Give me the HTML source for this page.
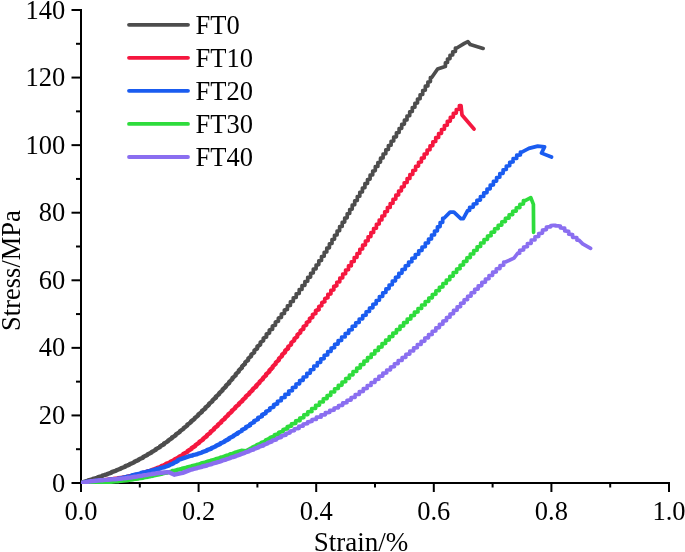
<!DOCTYPE html>
<html><head><meta charset="utf-8"><title>Stress-Strain</title>
<style>
html,body{margin:0;padding:0;background:#fff;}
body{width:685px;height:552px;overflow:hidden;}
svg{display:block;will-change:transform;}
text{font-family:"Liberation Serif",serif;font-size:26.5px;fill:#000;}
.c{fill:none;stroke-linejoin:round;stroke-linecap:round;}
</style></head><body>
<svg width="685" height="552" viewBox="0 0 685 552">
<rect width="685" height="552" fill="#fff"/>

<g stroke="#000" stroke-width="2" fill="none" stroke-linecap="butt">
<path d="M81 9 V492"/>
<path d="M71.5 483 H670"/>
<path d="M76 449.21 H81"/>
<path d="M71.5 415.43 H81"/>
<path d="M76 381.64 H81"/>
<path d="M71.5 347.86 H81"/>
<path d="M76 314.07 H81"/>
<path d="M71.5 280.29 H81"/>
<path d="M76 246.50 H81"/>
<path d="M71.5 212.71 H81"/>
<path d="M76 178.93 H81"/>
<path d="M71.5 145.14 H81"/>
<path d="M76 111.36 H81"/>
<path d="M71.5 77.57 H81"/>
<path d="M76 43.79 H81"/>
<path d="M71.5 10.00 H81"/>
<path d="M139.80 483 V487.5"/>
<path d="M198.60 483 V492"/>
<path d="M257.40 483 V487.5"/>
<path d="M316.20 483 V492"/>
<path d="M375.00 483 V487.5"/>
<path d="M433.80 483 V492"/>
<path d="M492.60 483 V487.5"/>
<path d="M551.40 483 V492"/>
<path d="M610.20 483 V487.5"/>
<path d="M669.00 483 V492"/>
</g>
<text x="65.3" y="491.5" text-anchor="end">0</text>
<text x="65.3" y="423.9" text-anchor="end">20</text>
<text x="65.3" y="356.4" text-anchor="end">40</text>
<text x="65.3" y="288.8" text-anchor="end">60</text>
<text x="65.3" y="221.2" text-anchor="end">80</text>
<text x="65.3" y="153.6" text-anchor="end">100</text>
<text x="65.3" y="86.1" text-anchor="end">120</text>
<text x="65.3" y="18.5" text-anchor="end">140</text>
<text x="81.0" y="520" text-anchor="middle">0.0</text>
<text x="198.6" y="520" text-anchor="middle">0.2</text>
<text x="316.2" y="520" text-anchor="middle">0.4</text>
<text x="433.8" y="520" text-anchor="middle">0.6</text>
<text x="551.4" y="520" text-anchor="middle">0.8</text>
<text x="669.0" y="520" text-anchor="middle">1.0</text>
<text x="361" y="551.2" text-anchor="middle" style="font-size:27px">Strain/%</text>
<text transform="translate(20.3 270.5) rotate(-90)" text-anchor="middle">Stress/MPa</text>
<clipPath id="pc"><rect x="81" y="0" width="604" height="484"/></clipPath>
<g clip-path="url(#pc)">
<g class="c" stroke="#4d4d4d">
<path d="M81.0 483.0 L83.3 482.3 L83.3 482.0 L85.7 481.3 L88.1 480.7 L88.1 480.4 L90.4 479.8 L92.8 479.2 L92.8 478.9 L95.2 478.3 L97.6 477.7 L97.6 477.4 L99.9 476.7 L102.3 476.1 L102.3 475.7 L104.6 475.0 L107.0 474.4 L107.0 474.0 L109.3 473.3 L111.6 472.6 L111.6 472.2 L113.9 471.4 L116.2 470.7 L116.2 470.3 L118.5 469.5 L120.8 468.7 L120.8 468.3 L123.1 467.5 L125.3 466.7 L125.3 466.2 L127.6 465.4 L129.8 464.5 L129.8 464.1 L132.1 463.2 L134.3 462.3 L134.3 461.8 L136.5 460.9 L138.7 460.0 L138.7 459.5 L140.9 458.5 L143.1 457.6 L143.1 457.0 L145.2 456.1 L147.4 455.1 L147.4 454.5 L149.5 453.5 L151.6 452.5 L151.6 451.9 L153.7 450.9 L155.8 449.8 L155.8 449.2 L157.9 448.1 L160.0 447.0 L160.0 446.4 L162.0 445.3 L164.0 444.2 L164.0 443.5 L166.1 442.4 L168.1 441.2 L168.1 440.6 L170.0 439.4 L172.0 438.2 L172.0 437.5 L174.0 436.3 L175.9 435.1 L175.9 434.4 L177.9 433.2 L179.8 432.0 L179.8 431.3 L181.7 430.0 L183.6 428.7 L183.6 428.0 L185.5 426.8 L187.3 425.5 L187.3 424.7 L189.2 423.5 L191.1 422.1 L191.1 421.4 L192.9 420.1 L194.7 418.8 L194.7 418.0 L196.5 416.7 L198.3 415.3 L198.3 414.6 L200.1 413.2 L201.9 411.9 L201.9 411.1 L203.7 409.7 L205.4 408.4 L205.4 407.6 L207.2 406.2 L208.9 404.8 L208.9 404.0 L210.7 402.6 L212.4 401.2 L212.4 400.4 L214.1 399.0 L215.8 397.6" stroke-width="4.40"/>
<path d="M215.8 397.6 L215.8 396.8 L217.5 395.4 L219.2 394.0 L219.2 393.1 L220.9 391.7 L222.6 390.3 L222.6 389.4 L224.3 388.0 L225.9 386.6 L225.9 385.7 L227.6 384.3 L229.2 382.9" stroke-width="4.39"/>
<path d="M229.2 382.9 L229.2 381.9 L230.8 380.5 L232.4 379.2 L232.4 378.0 L234.1 376.7 L235.7 375.4 L235.7 374.2 L237.2 372.9 L238.8 371.6 L238.8 370.3 L240.4 369.0 L242.0 367.8 L242.0 366.3 L243.5 365.1" stroke-width="4.29"/>
<path d="M243.5 365.1 L245.1 364.0 L245.1 362.4 L246.6 361.2 L248.2 360.2 L248.2 358.4 L249.7 357.3 L251.2 356.3 L251.2 354.4 L252.8 353.4 L254.3 352.5 L254.3 350.4 L255.8 349.4 L257.3 348.6 L257.3 346.3 L258.9 345.5" stroke-width="4.13"/>
<path d="M258.9 345.5 L260.4 344.7 L260.4 342.3 L261.9 341.5 L263.4 340.8 L263.4 338.3 L264.9 337.5 L266.4 336.9 L266.4 334.2 L267.9 333.6 L269.4 333.0 L269.4 330.2 L270.9 329.6 L272.4 329.1" stroke-width="3.95"/>
<path d="M272.4 329.1 L272.4 326.1 L273.9 325.6 L275.4 325.2 L275.4 322.1 L276.9 321.6 L278.4 321.2 L278.4 318.0 L279.9 317.6 L281.4 317.3 L281.4 314.0 L282.9 313.7 L284.4 313.4 L284.4 310.0 L285.9 309.7" stroke-width="3.81"/>
<path d="M285.9 309.7 L287.4 309.4 L287.4 305.9 L288.9 305.7 L290.4 305.5 L290.4 301.9 L291.8 301.6 L293.3 301.5 L293.3 297.8 L294.8 297.6 L296.2 297.5 L296.2 293.8 L297.7 293.6 L299.2 293.4 L299.2 289.7 L300.6 289.5" stroke-width="3.71"/>
<path d="M300.6 289.5 L302.0 289.4 L302.0 285.6 L303.5 285.5 L304.9 285.3 L304.9 281.5 L306.3 281.4 L307.7 281.2 L307.7 277.4 L309.2 277.3 L310.6 277.1 L310.6 273.3 L312.0 273.1 L313.3 273.0 L313.3 269.1 L314.7 269.0 L316.1 268.8 L316.1 265.0 L317.5 264.8 L318.8 264.6 L318.8 260.8 L320.2 260.6 L321.5 260.4 L321.5 256.6 L322.8 256.4 L324.2 256.2 L324.2 252.3 L325.5 252.2 L326.8 252.0 L326.8 248.1 L328.1 247.9 L329.4 247.8 L329.4 243.8 L330.7 243.7 L332.0 243.5 L332.0 239.6 L333.3 239.4 L334.5 239.2 L334.5 235.3 L335.8 235.1 L337.1 235.0 L337.1 231.0 L338.4 230.8 L339.6 230.7 L339.6 226.7 L340.9 226.5 L342.2 226.4 L342.2 222.4 L343.4 222.2 L344.7 222.1 L344.7 218.1 L345.9 217.9 L347.2 217.8 L347.2 213.8 L348.5 213.6 L349.7 213.5 L349.7 209.5 L351.0 209.3 L352.2 209.1 L352.2 205.2 L353.5 205.0 L354.7 204.8 L354.7 200.9 L356.0 200.7 L357.3 200.5 L357.3 196.6 L358.5 196.4 L359.8 196.2 L359.8 192.3 L361.1 192.1 L362.4 192.0 L362.4 188.0 L363.6 187.8 L364.9 187.7 L364.9 183.7 L366.2 183.6 L367.5 183.4 L367.5 179.5 L368.8 179.3 L370.1 179.1 L370.1 175.2 L371.4 175.0 L372.7 174.9 L372.7 171.0 L374.0 170.8 L375.3 170.6 L375.3 166.7 L376.6 166.5 L377.9 166.4 L377.9 162.5 L379.2 162.3 L380.5 162.1 L380.5 158.2 L381.8 158.1 L383.1 157.9 L383.1 154.0 L384.5 153.8 L385.8 153.7 L385.8 149.8 L387.1 149.6 L388.4 149.4 L388.4 145.5 L389.8 145.4 L391.1 145.2 L391.1 141.3 L392.4 141.2 L393.7 141.0 L393.7 137.1 L395.1 136.9 L396.4 136.8 L396.4 132.9 L397.7 132.7 L399.1 132.5 L399.1 128.7 L400.4 128.5 L401.7 128.3 L401.7 124.4 L403.0 124.3 L404.4 124.1 L404.4 120.2 L405.7 120.1 L407.0 119.9 L407.0 116.0 L408.3 115.8 L409.7 115.7 L409.7 111.8 L411.0 111.6 L412.3 111.4 L412.3 107.5 L413.6 107.4 L414.9 107.2 L414.9 103.3 L416.2 103.1 L417.5 102.9 L417.5 99.0 L418.8 98.9 L420.1 98.7 L420.1 94.8 L421.4 94.6 L422.7 94.4 L422.7 90.5 L424.0 90.3 L425.3 90.2 L425.3 86.2 L426.6 86.1 L427.9 85.9 L427.9 82.0 L429.1 81.8 L430.4 81.6 L430.4 77.7 L431.7 77.5 L437.6 69.0 L444.4 66.7 L444.4 66.7 L445.4 66.5 L445.4 62.9 L446.4 62.7 L447.5 62.5 L447.5 59.0 L448.6 58.8 L450.0 58.6 L450.0 55.4 L451.3 55.2 L452.7 55.0 L452.7 51.8 L454.1 51.6 L455.4 51.4 L455.4 48.2 L456.8 48.0 L464.4 43.4 L467.9 41.6 L470.2 44.5 L483.1 48.4" stroke-width="3.70"/>
</g>
<g class="c" stroke="#f5173f">
<path d="M81.0 483.0 L83.5 482.7 L83.5 482.6 L85.9 482.3 L88.4 482.0 L88.4 481.9 L90.9 481.7 L93.4 481.5 L93.4 481.4 L95.9 481.2 L98.4 480.9 L98.4 480.8 L100.9 480.6 L103.3 480.3 L103.3 480.2 L105.8 480.0 L108.3 479.7 L108.3 479.6 L110.8 479.3 L113.3 479.1 L113.3 478.9 L115.7 478.6 L118.2 478.4 L118.2 478.2 L120.7 477.9 L123.1 477.6 L123.1 477.4 L125.6 477.1 L128.1 476.7 L128.1 476.5 L130.5 476.1 L133.0 475.7 L133.0 475.5 L135.4 475.0 L137.8 474.6 L137.8 474.3 L140.3 473.8 L142.7 473.3 L142.7 473.0 L145.1 472.4 L147.4 471.8 L147.4 471.5 L149.8 470.9 L152.2 470.2 L152.2 469.8 L154.5 469.2 L156.8 468.4 L156.8 468.0 L159.2 467.3 L161.4 466.5 L161.4 466.1 L163.7 465.3 L166.0 464.4 L166.0 463.9 L168.2 463.1 L170.4 462.2 L170.4 461.7 L172.6 460.8 L174.8 459.8 L174.8 459.2 L177.0 458.3 L179.1 457.3 L179.1 456.7 L181.3 455.7 L183.3 454.6 L183.3 454.0 L185.4 452.9 L187.5 451.8 L187.5 451.2 L189.5 450.0 L191.5 448.9 L191.5 448.2 L193.5 447.0 L195.5 445.8 L195.5 445.1 L197.4 443.9 L199.3 442.7 L199.3 441.9 L201.3 440.7 L203.1 439.4 L203.1 438.7 L205.0 437.4 L206.9 436.1 L206.9 435.3 L208.7 434.0 L210.5 432.7 L210.5 431.9 L212.3 430.6 L214.1 429.2 L214.1 428.5 L215.9 427.1 L217.7 425.7 L217.7 425.0 L219.5 423.6 L221.3 422.2 L221.3 421.4 L223.0 420.1 L224.8 418.7 L224.8 417.9 L226.6 416.5 L228.3 415.1 L228.3 414.3 L230.1 413.0 L231.8 411.6 L231.8 410.8 L233.6 409.4 L235.3 408.0 L235.3 407.2 L237.1 405.8 L238.9 404.4 L238.9 403.7 L240.6 402.3 L242.4 400.9 L242.4 400.1 L244.1 398.7 L245.8 397.3 L245.8 396.5 L247.6 395.1 L249.3 393.7 L249.3 392.9 L251.0 391.5 L252.7 390.0 L252.7 389.2 L254.5 387.8 L256.2 386.4" stroke-width="4.40"/>
<path d="M256.2 386.4 L256.2 385.6 L257.8 384.1 L259.5 382.7 L259.5 381.9 L261.2 380.4 L262.9 379.0 L262.9 378.1 L264.5 376.7 L266.1 375.3 L266.1 374.3 L267.8 372.9 L269.4 371.5 L269.4 370.5 L271.0 369.1" stroke-width="4.38"/>
<path d="M271.0 369.1 L272.6 367.7 L272.6 366.6 L274.2 365.2 L275.7 363.9 L275.7 362.7 L277.3 361.3 L278.9 360.0 L278.9 358.7 L280.4 357.4 L282.0 356.1 L282.0 354.7 L283.5 353.5 L285.1 352.3 L285.1 350.7 L286.6 349.5 L288.1 348.4" stroke-width="4.29"/>
<path d="M288.1 348.4 L288.1 346.7 L289.7 345.6 L291.2 344.5 L291.2 342.7 L292.7 341.6 L294.3 340.6 L294.3 338.7 L295.8 337.7 L297.3 336.7 L297.3 334.7 L298.8 333.7 L300.4 332.8 L300.4 330.7 L301.9 329.8 L303.4 328.9" stroke-width="4.13"/>
<path d="M303.4 328.9 L303.4 326.6 L305.0 325.8 L306.5 325.0 L306.5 322.6 L308.0 321.9 L309.6 321.2 L309.6 318.6 L311.1 317.9 L312.6 317.3 L312.6 314.6 L314.2 314.0 L315.7 313.4 L315.7 310.6 L317.2 310.0 L318.8 309.5" stroke-width="3.96"/>
<path d="M318.8 309.5 L318.8 306.5 L320.3 306.0 L321.8 305.6 L321.8 302.5 L323.3 302.1 L324.8 301.7 L324.8 298.5 L326.4 298.1 L327.9 297.7 L327.9 294.4 L329.4 294.1 L330.9 293.8 L330.9 290.4 L332.4 290.1 L333.8 289.8 L333.8 286.3 L335.3 286.1" stroke-width="3.80"/>
<path d="M335.3 286.1 L336.8 285.8 L336.8 282.3 L338.3 282.0 L339.8 281.8 L339.8 278.2 L341.2 278.0 L342.7 277.8 L342.7 274.1 L344.1 273.9 L345.6 273.7 L345.6 270.0 L347.0 269.8 L348.5 269.7 L348.5 265.9 L349.9 265.7 L351.3 265.6" stroke-width="3.71"/>
<path d="M351.3 265.6 L351.3 261.8 L352.8 261.6 L354.2 261.5 L354.2 257.7 L355.6 257.5 L357.0 257.3 L357.0 253.5 L358.4 253.4 L359.8 253.2 L359.8 249.4 L361.2 249.2 L362.6 249.0 L362.6 245.2 L364.0 245.1 L365.4 244.9 L365.4 241.1 L366.7 240.9 L368.1 240.7 L368.1 236.9 L369.5 236.7 L370.9 236.6 L370.9 232.7 L372.3 232.6 L373.6 232.4 L373.6 228.6 L375.0 228.4 L376.4 228.2 L376.4 224.4 L377.8 224.2 L379.2 224.0 L379.2 220.2 L380.5 220.0 L381.9 219.9 L381.9 216.0 L383.3 215.9 L384.7 215.7 L384.7 211.9 L386.1 211.7 L387.4 211.5 L387.4 207.7 L388.8 207.5 L390.2 207.4 L390.2 203.5 L391.6 203.4 L393.0 203.2 L393.0 199.4 L394.4 199.2 L395.8 199.1 L395.8 195.2 L397.2 195.1 L398.6 194.9 L398.6 191.1 L400.0 190.9 L401.4 190.8 L401.4 187.0 L402.8 186.8 L404.2 186.6 L404.2 182.8 L405.7 182.7 L407.1 182.5 L407.1 178.7 L408.5 178.6 L409.9 178.4 L409.9 174.6 L411.3 174.4 L412.8 174.3 L412.8 170.5 L414.2 170.3 L415.6 170.2 L415.6 166.4 L417.1 166.2 L418.5 166.1 L418.5 162.3 L419.9 162.2 L421.4 162.0 L421.4 158.2 L422.8 158.1 L424.2 157.9 L424.2 154.1 L425.7 154.0 L427.1 153.8 L427.1 150.0 L428.5 149.9 L430.0 149.7 L430.0 145.9 L431.4 145.8 L432.8 145.6 L432.8 141.8 L434.3 141.7 L435.7 141.5 L435.7 137.7 L437.1 137.6 L438.6 137.4 L438.6 133.6 L440.0 133.5 L441.5 133.3 L441.5 129.6 L442.9 129.4 L444.4 129.2 L444.4 125.5 L445.8 125.3 L447.3 125.2 L447.3 121.4 L448.8 121.3 L450.3 121.1 L450.3 117.4 L451.7 117.3 L453.3 117.1 L453.3 113.4 L454.8 113.3 L456.3 113.1 L456.3 109.5 L457.9 109.3 L459.4 109.2 L459.4 105.6 L461.0 105.5 L462.0 115.0 L474.0 129.0" stroke-width="3.70"/>
</g>
<g class="c" stroke="#1a5cf0">
<path d="M81.0 483.0 L83.4 482.6 L83.4 482.4 L85.8 482.0 L88.2 481.7 L88.2 481.6 L90.6 481.3 L93.1 481.2 L93.1 481.1 L95.5 481.0 L97.9 480.8 L97.9 480.7 L100.4 480.6 L102.8 480.5 L102.8 480.4 L105.2 480.3 L107.7 480.1 L107.7 480.0 L110.1 479.8 L112.5 479.6 L112.5 479.5 L115.0 479.2 L117.4 478.9 L117.4 478.7 L119.8 478.4 L122.2 478.0 L122.2 477.8 L124.6 477.4 L126.9 477.0 L126.9 476.7 L129.3 476.3 L131.7 475.8 L131.7 475.5 L134.1 475.0 L136.4 474.5 L136.4 474.3 L138.8 473.8 L141.1 473.3 L141.1 473.0 L143.5 472.5 L145.9 472.1 L145.9 471.8 L148.2 471.3 L150.6 470.9 L150.6 470.6 L153.0 470.2 L155.4 469.7 L155.4 469.5 L157.7 469.0 L160.1 468.5 L160.1 468.2 L162.4 467.7 L164.8 467.1 L164.8 466.8 L167.1 466.1 L169.3 465.4 L169.3 465.0 L171.6 464.2 L173.7 463.3 L173.7 462.8 L175.9 462.0 L177.9 460.9 L177.9 460.3 L180.0 459.3 L190.2 455.9 L192.6 455.5 L192.6 455.2 L195.1 454.7 L197.5 454.1 L197.5 453.8 L199.9 453.2 L202.2 452.5 L202.2 452.1 L204.6 451.4 L206.9 450.7 L206.9 450.2 L209.2 449.4 L211.5 448.6 L211.5 448.1 L213.7 447.2 L216.0 446.3 L216.0 445.8 L218.2 444.9 L220.4 444.0 L220.4 443.4 L222.6 442.5 L224.8 441.5 L224.8 440.9 L226.9 439.9" stroke-width="4.40"/>
<path d="M226.9 439.9 L229.1 438.9 L229.1 438.3 L231.2 437.3 L233.4 436.3 L233.4 435.7 L235.5 434.6 L237.6 433.6" stroke-width="4.38"/>
<path d="M237.6 433.6 L237.6 432.9 L239.7 431.9 L241.8 430.9 L241.8 430.0 L243.9 429.1 L245.9 428.1 L245.9 427.1 L248.0 426.2 L250.0 425.3" stroke-width="4.30"/>
<path d="M250.0 425.3 L250.0 424.1 L252.0 423.2 L254.0 422.4 L254.0 421.0 L256.1 420.2 L258.0 419.4 L258.0 417.8 L260.0 417.1 L262.0 416.4 L262.0 414.6 L264.0 413.9" stroke-width="4.13"/>
<path d="M264.0 413.9 L265.9 413.3 L265.9 411.4 L267.9 410.8 L269.8 410.2 L269.8 408.1 L271.7 407.6 L273.7 407.1 L273.7 404.7 L275.6 404.3" stroke-width="3.95"/>
<path d="M275.6 404.3 L277.5 403.9 L277.5 401.4 L279.4 401.0 L281.2 400.7 L281.2 398.0 L283.1 397.7 L285.0 397.4 L285.0 394.5 L286.9 394.3 L288.7 394.1" stroke-width="3.80"/>
<path d="M288.7 394.1 L288.7 391.1 L290.6 390.9 L292.4 390.7 L292.4 387.6 L294.2 387.4 L296.0 387.3 L296.0 384.1 L297.8 383.9 L299.6 383.8 L299.6 380.5 L301.4 380.4" stroke-width="3.71"/>
<path d="M301.4 380.4 L303.2 380.3 L303.2 377.0 L305.0 376.9 L306.8 376.7 L306.8 373.4 L308.5 373.3 L310.3 373.1 L310.3 369.8 L312.0 369.7 L313.8 369.5 L313.8 366.2 L315.5 366.0 L317.3 365.9 L317.3 362.5 L319.0 362.4 L320.7 362.3 L320.7 358.9 L322.5 358.8 L324.2 358.6 L324.2 355.3 L325.9 355.1 L327.7 355.0 L327.7 351.6 L329.4 351.5 L331.1 351.3 L331.1 348.0 L332.9 347.8 L334.6 347.7 L334.6 344.4 L336.4 344.2 L338.1 344.1 L338.1 340.7 L339.9 340.6 L341.6 340.5 L341.6 337.2 L343.4 337.0 L345.2 336.9 L345.2 333.6 L346.9 333.4 L348.7 333.3 L348.7 330.0 L350.5 329.8 L352.2 329.7 L352.2 326.4 L354.0 326.2 L355.7 326.1 L355.7 322.8 L357.5 322.6 L359.2 322.5 L359.2 319.1 L361.0 319.0 L362.7 318.8 L362.7 315.5 L364.4 315.3 L366.1 315.2 L366.1 311.8 L367.8 311.6 L369.5 311.5 L369.5 308.1 L371.2 307.9 L372.9 307.8 L372.9 304.3 L374.5 304.1 L376.2 304.0 L376.2 300.5 L377.8 300.3 L379.4 300.2 L379.4 296.6 L381.1 296.5 L382.7 296.3 L382.7 292.8 L384.3 292.6 L385.9 292.5 L385.9 288.9 L387.5 288.8 L389.1 288.6 L389.1 285.0 L390.7 284.9 L392.3 284.7 L392.3 281.2 L393.9 281.0 L395.5 280.8 L395.5 277.3 L397.1 277.1 L398.8 277.0 L398.8 273.4 L400.4 273.3 L402.0 273.1 L402.0 269.6 L403.6 269.4 L405.3 269.3 L405.3 265.8 L406.9 265.6 L408.6 265.5 L408.6 262.0 L410.2 261.9 L411.9 261.7 L411.9 258.3 L413.6 258.1 L415.3 258.0 L415.3 254.5 L417.0 254.4 L418.7 254.2 L418.7 250.8 L420.3 250.6 L422.0 250.5 L422.0 247.0 L423.7 246.9 L425.3 246.7 L425.3 243.2 L426.9 243.0 L428.5 242.8 L428.5 239.2 L430.0 239.1 L431.5 238.9 L431.5 235.2 L433.1 235.0 L434.5 234.9 L434.5 231.1 L436.0 231.0 L437.4 230.8 L437.4 226.9 L438.8 226.8 L440.1 226.6 L440.1 222.7 L441.4 222.5 L442.7 222.3 L442.7 218.4 L444.0 218.2 L450.1 212.1 L453.9 212.1 L460.8 218.7 L463.3 218.6 L467.7 210.5 L469.6 210.4 L469.6 207.4 L471.5 207.3 L473.3 207.1 L473.3 204.0 L475.2 203.8 L476.9 203.7 L476.9 200.4 L478.7 200.2 L480.4 200.1 L480.4 196.7 L482.1 196.5 L483.7 196.4 L483.7 192.9 L485.4 192.8 L487.0 192.6 L487.0 189.1 L488.6 188.9 L490.2 188.8 L490.2 185.2 L491.8 185.1 L493.4 184.9 L493.4 181.4 L495.0 181.2 L496.6 181.1 L496.6 177.5 L498.2 177.3 L499.8 177.2 L499.8 173.6 L501.4 173.5 L503.1 173.3 L503.1 169.8 L504.7 169.6 L506.3 169.5 L506.3 166.0 L508.0 165.9 L509.7 165.7 L509.7 162.3 L511.3 162.1 L513.1 162.0 L513.1 158.7 L514.8 158.5 L516.7 158.4 L516.7 155.2 L518.5 155.1 L520.4 154.9 L520.4 152.0 L522.3 151.8 L528.9 148.4 L537.7 146.1 L544.6 146.9 L541.5 153.1 L551.5 157.0" stroke-width="3.70"/>
</g>
<g class="c" stroke="#2edc3c">
<path d="M81.0 483.0 L83.5 483.0 L83.5 482.9 L86.0 482.9 L88.5 482.9 L88.5 482.8 L91.0 482.8 L93.5 482.8 L93.5 482.7 L96.0 482.7 L98.5 482.6 L98.5 482.6 L101.0 482.5 L103.5 482.3 L103.5 482.3 L105.9 482.2 L108.4 482.0 L108.4 481.9 L110.9 481.8 L113.4 481.6 L113.4 481.5 L115.9 481.4 L118.4 481.2 L118.4 481.0 L120.9 480.8 L123.3 480.6 L123.3 480.5 L125.8 480.3 L128.3 480.0 L128.3 479.9 L130.8 479.6 L133.2 479.3 L133.2 479.1 L135.7 478.9 L138.2 478.5 L138.2 478.4 L140.6 478.0 L143.1 477.7 L143.1 477.5 L145.5 477.1 L148.0 476.8 L148.0 476.5 L150.4 476.2 L152.9 475.8 L152.9 475.5 L155.3 475.1 L157.8 474.7 L157.8 474.5 L160.2 474.0 L162.6 473.6 L162.6 473.4 L165.1 472.9 L167.5 472.5 L167.5 472.2 L169.9 471.8 L172.3 471.3 L172.3 471.0 L174.8 470.6 L177.2 470.1 L177.2 469.8 L179.6 469.4 L182.0 468.9 L182.0 468.6 L184.5 468.1 L186.9 467.6 L186.9 467.4 L189.3 466.9 L191.7 466.4 L191.7 466.1 L194.1 465.6 L196.5 465.1 L196.5 464.8 L198.9 464.3 L201.3 463.7 L201.3 463.5 L203.7 462.9 L206.1 462.4 L206.1 462.1 L208.5 461.5 L210.9 461.0 L210.9 460.7 L213.3 460.1 L215.7 459.5 L215.7 459.2 L218.1 458.6 L220.4 458.0 L220.4 457.7 L222.8 457.1 L225.2 456.4 L225.2 456.1 L227.6 455.5 L229.9 454.8 L229.9 454.5 L232.3 453.9 L234.6 453.2 L234.6 452.9 L237.0 452.2 L241.4 450.8 L246.0 451.1" stroke-width="4.40"/>
<path d="M246.0 451.1 L250.2 448.9 L252.4 448.1 L252.4 447.5 L254.7 446.6 L256.9 445.8" stroke-width="4.38"/>
<path d="M256.9 445.8 L256.9 445.1 L259.1 444.3 L261.3 443.5 L261.3 442.7 L263.6 441.9 L265.7 441.1 L265.7 440.2 L267.9 439.4" stroke-width="4.28"/>
<path d="M267.9 439.4 L270.1 438.8 L270.1 437.6 L272.3 436.9 L274.5 436.3 L274.5 435.0 L276.6 434.4 L278.8 433.9" stroke-width="4.12"/>
<path d="M278.8 433.9 L278.8 432.3 L280.9 431.8 L283.1 431.3 L283.1 429.6 L285.2 429.1 L287.3 428.8 L287.3 426.8 L289.4 426.4" stroke-width="3.95"/>
<path d="M289.4 426.4 L291.5 426.1 L291.5 423.9 L293.6 423.6 L295.7 423.4 L295.7 421.0 L297.7 420.7 L299.8 420.5" stroke-width="3.80"/>
<path d="M299.8 420.5 L299.8 418.0 L301.8 417.8 L303.8 417.6 L303.8 414.9 L305.8 414.7 L307.8 414.6 L307.8 411.8 L309.8 411.6 L311.7 411.5" stroke-width="3.71"/>
<path d="M311.7 411.5 L311.7 408.6 L313.7 408.5 L315.6 408.4 L315.6 405.4 L317.6 405.3 L319.5 405.1 L319.5 402.1 L321.4 402.0 L323.3 401.9 L323.3 398.9 L325.2 398.7 L327.1 398.6 L327.1 395.5 L329.0 395.4 L330.8 395.3 L330.8 392.2 L332.7 392.0 L334.6 391.9 L334.6 388.8 L336.4 388.7 L338.3 388.5 L338.3 385.4 L340.2 385.3 L342.0 385.1 L342.0 382.0 L343.8 381.9 L345.7 381.7 L345.7 378.6 L347.5 378.4 L349.4 378.3 L349.4 375.1 L351.2 375.0 L353.0 374.8 L353.0 371.7 L354.8 371.5 L356.7 371.4 L356.7 368.2 L358.5 368.1 L360.3 367.9 L360.3 364.7 L362.1 364.6 L363.9 364.4 L363.9 361.2 L365.7 361.1 L367.5 361.0 L367.5 357.7 L369.4 357.6 L371.2 357.5 L371.2 354.2 L373.0 354.1 L374.8 354.0 L374.8 350.7 L376.6 350.6 L378.4 350.5 L378.4 347.2 L380.2 347.1 L382.0 347.0 L382.0 343.7 L383.8 343.6 L385.6 343.4 L385.6 340.2 L387.4 340.1 L389.2 339.9 L389.2 336.7 L391.0 336.6 L392.8 336.4 L392.8 333.2 L394.6 333.1 L396.4 332.9 L396.4 329.7 L398.2 329.6 L400.0 329.4 L400.0 326.2 L401.8 326.1 L403.6 325.9 L403.6 322.7 L405.4 322.6 L407.2 322.4 L407.2 319.2 L409.0 319.1 L410.8 318.9 L410.8 315.7 L412.6 315.6 L414.4 315.4 L414.4 312.2 L416.3 312.1 L418.0 311.9 L418.0 308.7 L419.8 308.5 L421.6 308.4 L421.6 305.1 L423.4 305.0 L425.2 304.9 L425.2 301.6 L427.0 301.5 L428.8 301.3 L428.8 298.1 L430.6 297.9 L432.3 297.8 L432.3 294.5 L434.1 294.3 L435.9 294.2 L435.9 290.9 L437.6 290.7 L439.4 290.6 L439.4 287.3 L441.1 287.1 L442.9 287.0 L442.9 283.7 L444.6 283.5 L446.3 283.4 L446.3 280.0 L448.1 279.9 L449.8 279.7 L449.8 276.3 L451.5 276.2 L453.2 276.1 L453.2 272.7 L454.9 272.5 L456.6 272.4 L456.6 269.0 L458.4 268.8 L460.1 268.7 L460.1 265.3 L461.8 265.1 L463.5 265.0 L463.5 261.6 L465.2 261.4 L466.9 261.3 L466.9 257.9 L468.6 257.7 L470.3 257.6 L470.3 254.2 L472.0 254.0 L473.7 253.9 L473.7 250.5 L475.4 250.4 L477.1 250.2 L477.1 246.8 L478.8 246.7 L480.6 246.5 L480.6 243.2 L482.3 243.0 L484.0 242.9 L484.0 239.5 L485.8 239.4 L487.5 239.3 L487.5 236.0 L489.3 235.8 L491.1 235.7 L491.1 232.4 L492.8 232.2 L494.6 232.1 L494.6 228.9 L496.4 228.7 L498.2 228.6 L498.2 225.3 L500.0 225.2 L501.8 225.1 L501.8 221.8 L503.6 221.7 L505.4 221.6 L505.4 218.4 L507.3 218.2 L509.1 218.1 L509.1 214.9 L510.9 214.7 L512.7 214.6 L512.7 211.4 L514.5 211.2 L516.3 211.1 L516.3 207.8 L518.1 207.7 L519.9 207.6 L519.9 204.3 L521.7 204.2 L523.4 204.0 L523.4 200.7 L525.2 200.6 L530.8 197.6 L533.4 204.3 L533.6 232.3" stroke-width="3.70"/>
</g>
<g class="c" stroke="#8a6ef0">
<path d="M81.0 483.0 L83.4 482.6 L83.4 482.4 L85.8 482.1 L88.3 481.8 L88.3 481.6 L90.7 481.3 L93.2 481.1 L93.2 481.0 L95.6 480.8 L98.0 480.6 L98.0 480.5 L100.5 480.3 L103.0 480.2 L103.0 480.1 L105.4 479.9 L107.9 479.8 L107.9 479.7 L110.3 479.5 L112.8 479.4 L112.8 479.3 L115.2 479.2 L117.7 479.0 L117.7 478.9 L120.1 478.7 L122.6 478.5 L122.6 478.4 L125.0 478.2 L127.5 477.9 L127.5 477.8 L129.9 477.6 L132.3 477.3 L132.3 477.1 L134.8 476.8 L137.2 476.5 L137.2 476.4 L139.6 476.0 L142.1 475.7 L142.1 475.6 L144.5 475.2 L146.9 474.9 L146.9 474.8 L149.3 474.4 L151.8 474.1 L151.8 474.0 L154.2 473.7 L156.7 473.4 L156.7 473.3 L159.1 473.0 L161.5 472.8 L161.5 472.7 L164.0 472.5 L166.4 472.4 L166.4 472.3 L168.9 472.2 L174.5 474.7 L182.7 472.9 L190.2 469.9 L192.6 469.4 L192.6 469.1 L195.0 468.6 L197.4 468.1 L197.4 467.8 L199.8 467.3 L202.2 466.8 L202.2 466.5 L204.6 466.0 L207.0 465.5 L207.0 465.2 L209.4 464.7 L211.8 464.1 L211.8 463.8 L214.2 463.2 L216.6 462.7 L216.6 462.3 L218.9 461.8 L221.3 461.2 L221.3 460.8 L223.7 460.2 L226.0 459.6 L226.0 459.3 L228.4 458.7 L230.7 458.0 L230.7 457.7 L233.1 457.0 L235.4 456.4 L235.4 456.0 L237.8 455.3 L240.1 454.7 L240.1 454.3 L242.4 453.6 L244.8 452.9 L244.8 452.5 L247.1 451.8 L249.4 451.1 L249.4 450.7 L251.7 450.0" stroke-width="4.40"/>
<path d="M251.7 450.0 L254.0 449.3 L254.0 448.9 L256.3 448.1 L258.6 447.4 L258.6 446.9 L260.9 446.2 L263.2 445.5" stroke-width="4.38"/>
<path d="M263.2 445.5 L263.2 444.9 L265.4 444.2 L267.7 443.5 L267.7 442.8 L270.0 442.1 L272.2 441.5 L272.2 440.6 L274.5 440.0" stroke-width="4.28"/>
<path d="M274.5 440.0 L276.7 439.4 L276.7 438.4 L278.9 437.8 L281.2 437.2 L281.2 436.1 L283.4 435.5 L285.6 435.0" stroke-width="4.13"/>
<path d="M285.6 435.0 L285.6 433.7 L287.8 433.2 L290.0 432.8 L290.0 431.3 L292.2 430.9 L294.4 430.6 L294.4 428.9 L296.6 428.6 L298.8 428.3" stroke-width="3.95"/>
<path d="M298.8 428.3 L298.8 426.5 L301.0 426.2 L303.2 426.0 L303.2 424.1 L305.4 423.9 L307.6 423.7 L307.6 421.8 L309.8 421.6" stroke-width="3.79"/>
<path d="M309.8 421.6 L312.0 421.5 L312.0 419.5 L314.2 419.3 L316.4 419.3 L316.4 417.2 L318.7 417.1 L320.9 417.0" stroke-width="3.71"/>
<path d="M320.9 417.0 L320.9 414.9 L323.1 414.9 L325.3 414.8 L325.3 412.7 L327.5 412.6 L329.7 412.5 L329.7 410.4 L331.9 410.3 L334.1 410.2 L334.1 408.0 L336.3 407.9 L338.5 407.8 L338.5 405.5 L340.6 405.4 L342.7 405.3 L342.7 402.9 L344.9 402.8 L347.0 402.7 L347.0 400.3 L349.1 400.2 L351.1 400.1 L351.1 397.5 L353.2 397.4 L355.2 397.3 L355.2 394.6 L357.3 394.5 L359.3 394.4 L359.3 391.7 L361.3 391.6 L363.3 391.5 L363.3 388.7 L365.3 388.6 L367.2 388.5 L367.2 385.7 L369.2 385.5 L371.1 385.4 L371.1 382.6 L373.1 382.5 L375.0 382.3 L375.0 379.5 L377.0 379.4 L378.9 379.2 L378.9 376.4 L380.9 376.2 L382.8 376.1 L382.8 373.2 L384.7 373.1 L386.7 373.0 L386.7 370.1 L388.6 370.0 L390.5 369.8 L390.5 367.0 L392.4 366.8 L394.4 366.7 L394.4 363.8 L396.3 363.7 L398.2 363.6 L398.2 360.7 L400.2 360.5 L402.1 360.4 L402.1 357.5 L404.0 357.4 L405.9 357.3 L405.9 354.3 L407.8 354.2 L409.8 354.1 L409.8 351.1 L411.7 351.0 L413.6 350.9 L413.6 347.9 L415.5 347.8 L417.3 347.7 L417.3 344.7 L419.2 344.5 L421.1 344.4 L421.1 341.4 L423.0 341.3 L424.8 341.1 L424.8 338.1 L426.7 337.9 L428.5 337.8 L428.5 334.7 L430.3 334.6 L432.2 334.4 L432.2 331.3 L434.0 331.2 L435.8 331.0 L435.8 327.9 L437.6 327.8 L439.4 327.6 L439.4 324.4 L441.2 324.3 L442.9 324.2 L442.9 321.0 L444.7 320.8 L446.5 320.7 L446.5 317.5 L448.3 317.3 L450.0 317.2 L450.0 314.0 L451.8 313.8 L453.5 313.7 L453.5 310.4 L455.3 310.3 L457.1 310.2 L457.1 306.9 L458.8 306.8 L460.6 306.6 L460.6 303.4 L462.3 303.2 L464.1 303.1 L464.1 299.9 L465.8 299.7 L467.6 299.6 L467.6 296.4 L469.4 296.2 L471.1 296.1 L471.1 292.9 L472.9 292.7 L474.7 292.6 L474.7 289.4 L476.5 289.2 L478.2 289.1 L478.2 285.9 L480.0 285.8 L481.8 285.6 L481.8 282.4 L483.6 282.3 L485.4 282.2 L485.4 279.0 L487.2 278.9 L489.0 278.7 L489.0 275.6 L490.8 275.5 L492.6 275.3 L492.6 272.2 L494.5 272.1 L496.3 271.9 L496.3 268.8 L498.1 268.7 L500.0 268.6 L500.0 265.5 L501.8 265.4 L503.7 265.2 L503.7 262.1 L505.5 262.0 L514.0 258.1 L517.8 253.2 L517.8 253.4 L519.7 253.2 L519.7 250.3 L521.7 250.1 L523.6 250.0 L523.6 247.0 L525.5 246.8 L527.4 246.7 L527.4 243.6 L529.3 243.5 L531.2 243.3 L531.2 240.2 L533.1 240.0 L535.0 239.9 L535.0 236.8 L536.9 236.7 L538.7 236.5 L538.7 233.5 L540.6 233.3 L542.5 233.1 L542.5 230.0 L544.3 229.8 L546.4 229.6 L546.4 227.0 L548.4 226.9 L550.8 226.8 L550.8 225.5 L553.3 225.4 L555.7 225.4 L555.7 225.9 L558.2 225.9 L560.4 226.0 L560.4 228.0 L562.7 228.1 L564.7 228.2 L564.7 231.0 L566.7 231.1 L568.7 231.3 L568.7 234.2 L570.6 234.3 L572.6 234.5 L572.6 237.3 L574.6 237.5 L576.8 237.6 L576.8 240.1 L578.9 240.2 L582.7 243.9 L590.6 248.4" stroke-width="3.70"/>
</g>
</g>
<path d="M129 24.8 H188" stroke="#4d4d4d" stroke-width="3.8" stroke-linecap="round"/>
<text x="195.6" y="33.8">FT0</text>
<path d="M129 57.8 H188" stroke="#f5173f" stroke-width="3.8" stroke-linecap="round"/>
<text x="195.6" y="66.8">FT10</text>
<path d="M129 90.8 H188" stroke="#1a5cf0" stroke-width="3.8" stroke-linecap="round"/>
<text x="195.6" y="99.8">FT20</text>
<path d="M129 123.9 H188" stroke="#2edc3c" stroke-width="3.8" stroke-linecap="round"/>
<text x="195.6" y="132.9">FT30</text>
<path d="M129 157.0 H188" stroke="#8a6ef0" stroke-width="3.8" stroke-linecap="round"/>
<text x="195.6" y="166.0">FT40</text>
</svg></body></html>
